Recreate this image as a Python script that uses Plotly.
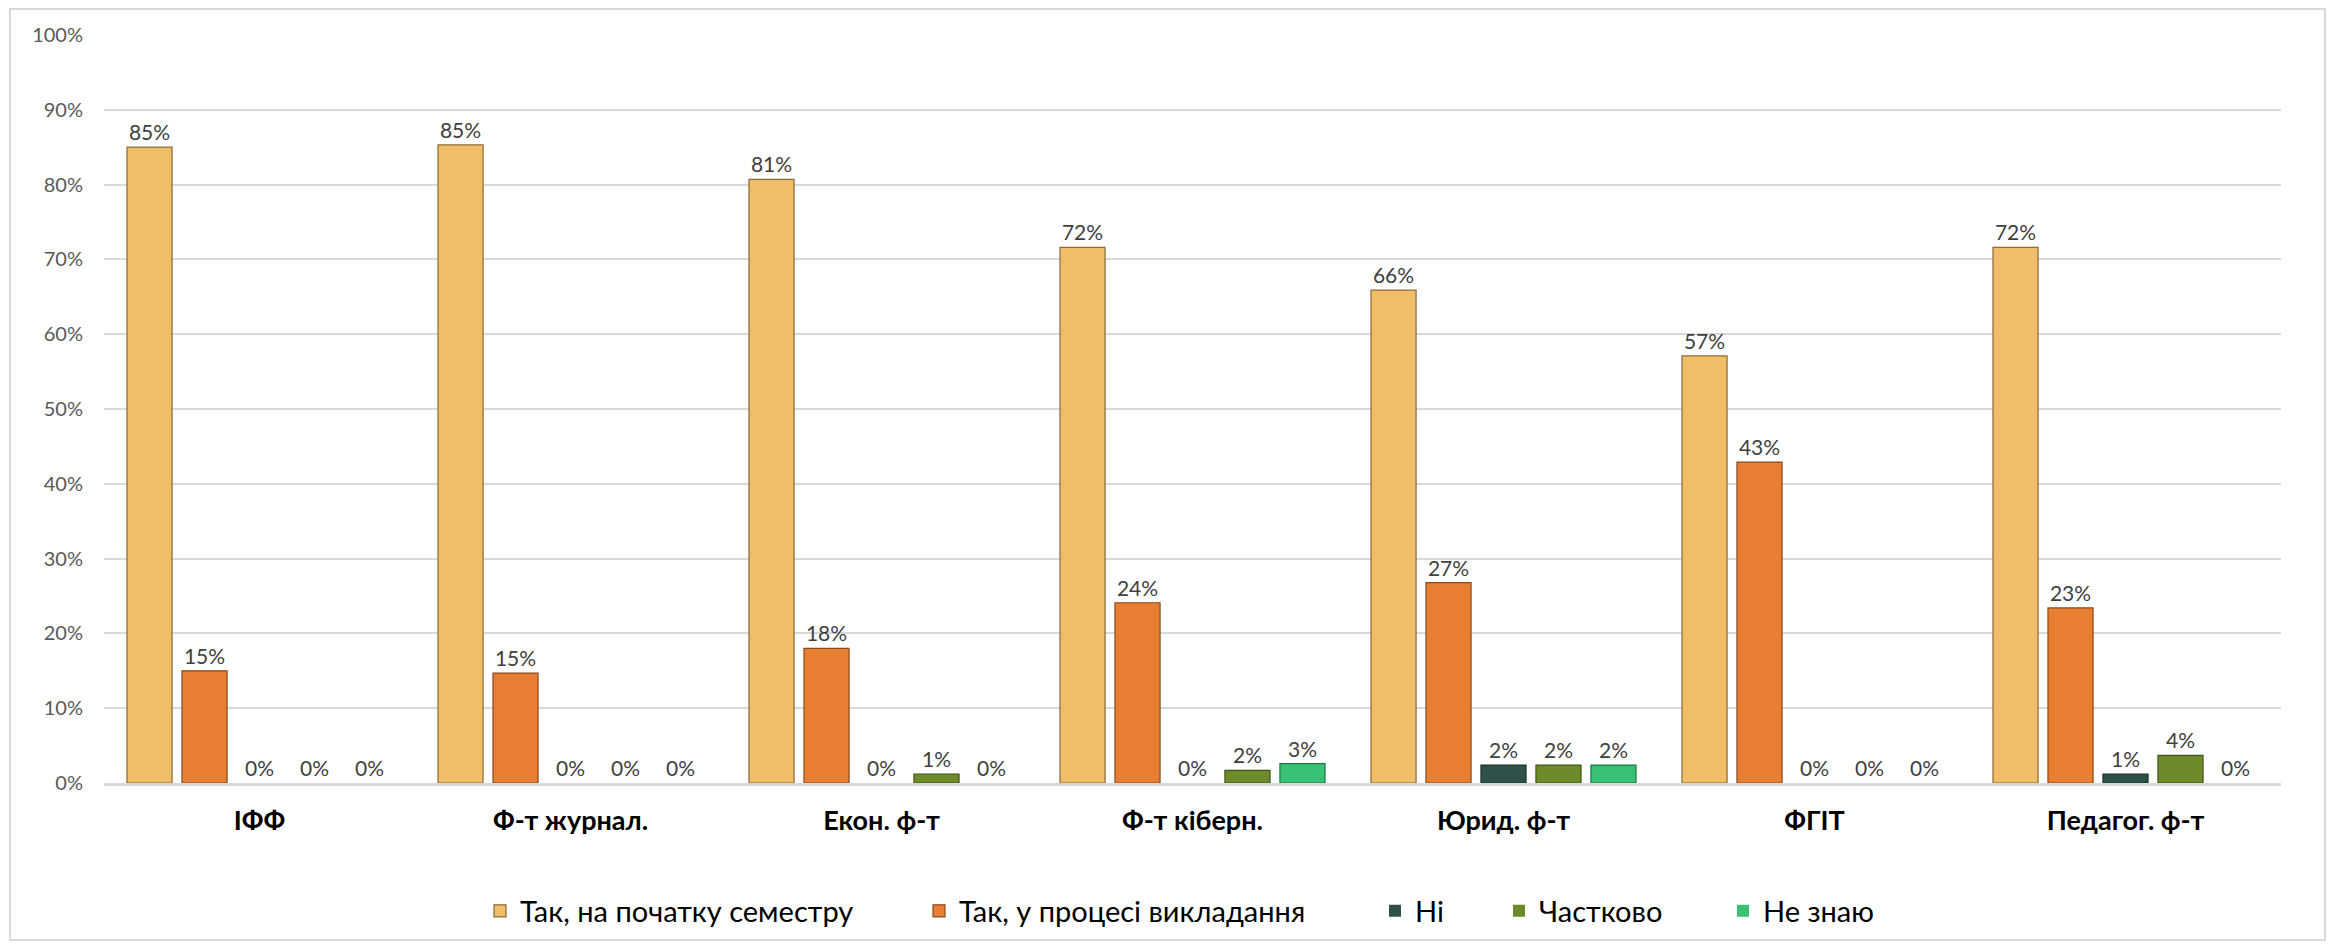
import plotly.graph_objects as go

categories = ["ІФФ", "Ф-т журнал.", "Екон. ф-т", "Ф-т кіберн.", "Юрид. ф-т", "ФГІТ", "Педагог. ф-т"]
series_names = ["Так, на початку семестру", "Так, у процесі викладання", "Ні", "Частково", "Не знаю"]
tak_pochatok = [0.850, 0.853, 0.807, 0.716, 0.659, 0.571, 0.716]
tak_protses = [0.150, 0.147, 0.180, 0.241, 0.268, 0.429, 0.234]
ni = [0.0, 0.0, 0.0, 0.0, 0.024, 0.0, 0.012]
chastkovo = [0.0, 0.0, 0.012, 0.017, 0.024, 0.0, 0.037]
ne_znayu = [0.0, 0.0, 0.0, 0.026, 0.024, 0.0, 0.0]
y_ticks = [0, 0.1, 0.2, 0.3, 0.4, 0.5, 0.6, 0.7, 0.8, 0.9, 1.0]

series_values = [tak_pochatok, tak_protses, ni, chastkovo, ne_znayu]
colors = ["#F0BE68", "#E87E31", "#2E5249", "#6E8B2C", "#38C075"]
edge_colors = ["#8A6A36", "#8A4A1C", "#1B322C", "#3F5418", "#1F7444"]

# page body has an 8px margin; the figure is placed at (8, 8)
OFF = 8
W, H = 2338 - OFF, 946 - OFF
# plot area in page pixels: x 104..2281, y 35..783
L = 104 - OFF
T = 35 - OFF
R = W - (2281 - OFF)
B = H - (783 - OFF)
pw, ph = W - L - R, H - T - B


def px_to_paper_x(px):
    return (px - OFF - L) / pw


def py_to_paper_y(py):
    return (H - B - (py - OFF)) / ph


fig = go.Figure()
legend_names = ["legend", "legend2", "legend3", "legend4", "legend5"]
for i, (name, vals) in enumerate(zip(series_names, series_values)):
    fig.add_trace(go.Bar(
        name=name, x=categories, y=vals,
        marker=dict(color=colors[i],
                    line=dict(color=edge_colors[i], width=[0 if v == 0 else 1.2 for v in vals])),
        text=vals, texttemplate="%{y:.0%}", textposition="outside",
        textfont=dict(family="Lato", size=21, color="#404040"),
        cliponaxis=False, legend=legend_names[i],
    ))

marker_left_px = [494, 933, 1389, 1513, 1737]
leg_y = py_to_paper_y(911)
legend_layout = {}
for i, ln in enumerate(legend_names):
    legend_layout[ln] = dict(
        x=px_to_paper_x(marker_left_px[i] - 14), xanchor="left",
        y=leg_y, yanchor="middle", orientation="h",
        font=dict(family="Lato", size=29, color="#000000"),
        bgcolor="rgba(0,0,0,0)", borderwidth=0,
    )

fig.update_layout(
    width=W, height=H,
    margin=dict(l=L, r=R, t=T, b=B, autoexpand=False),
    paper_bgcolor="white", plot_bgcolor="white",
    barmode="group", bargap=0.116, bargroupgap=0.18,
    showlegend=True,
    **legend_layout,
    yaxis=dict(
        range=[0, 1.0], tickvals=y_ticks, tickformat=".0%",
        showgrid=True, gridcolor="#D9D9D9", gridwidth=2,
        zeroline=False, showline=False, ticks="",
        tickfont=dict(family="Lato", size=20, color="#595959"),
        ticklabelstandoff=20,
    ),
    xaxis=dict(
        showline=True, linecolor="#D9D9D9", linewidth=3, ticks="",
        tickfont=dict(family="Lato", size=27, color="#000000", weight="bold"),
        ticklabelstandoff=12,
    ),
    shapes=[dict(
        type="rect", xref="paper", yref="paper",
        x0=px_to_paper_x(10), x1=px_to_paper_x(2325),
        y0=py_to_paper_y(940), y1=py_to_paper_y(9),
        line=dict(color="#D9D9D9", width=2), fillcolor="rgba(0,0,0,0)", layer="below",
    )],
)

fig.write_html("out.html")
